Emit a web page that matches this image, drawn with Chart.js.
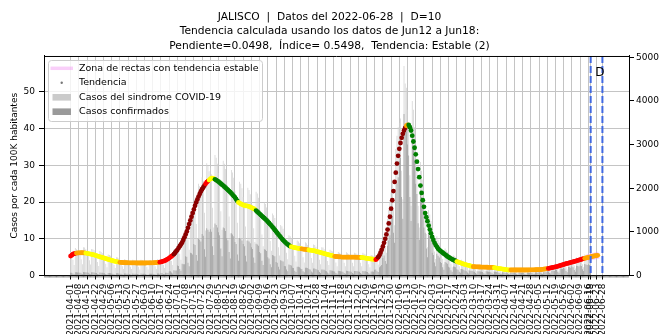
<!DOCTYPE html>
<html><head><meta charset="utf-8">
<script src="https://cdn.jsdelivr.net/npm/chart.js@4.4.1/dist/chart.umd.min.js"></script>
<style>html,body{margin:0;padding:0;background:#fff;}#wrap{width:659px;height:334px;}</style>
</head><body><div id="wrap"><canvas id="c" width="659" height="334"></canvas></div>
<script>
const titleLines = [
  'JALISCO  |  Datos del 2022-06-28  |  D=10',
  'Tendencia calculada usando los datos de Jun12 a Jun18:',
  'Pendiente=0.0498,  \u00cdndice= 0.5498,  Tendencia: Estable (2)'
];
const yLeftTitle = 'Casos por cada 100K habitantes';
const legendLabels = ['Zona de rectas con tendencia estable','Tendencia','Casos del sindrome COVID-19','Casos confirmados'];
const startDate = '2021-04-01';
const tickLabels = [
 '2021-04-01','2021-04-08','2021-04-15','2021-04-22','2021-04-29','2021-05-06','2021-05-13','2021-05-20','2021-05-27',
 '2021-06-03','2021-06-10','2021-06-17','2021-06-24','2021-07-01','2021-07-08','2021-07-15','2021-07-22','2021-07-29',
 '2021-08-05','2021-08-12','2021-08-19','2021-08-26','2021-09-02','2021-09-09','2021-09-16','2021-09-23','2021-09-30',
 '2021-10-07','2021-10-14','2021-10-21','2021-10-28','2021-11-04','2021-11-11','2021-11-18','2021-11-25','2021-12-02',
 '2021-12-09','2021-12-16','2021-12-23','2021-12-30','2022-01-06','2022-01-13','2022-01-20','2022-01-27','2022-02-03',
 '2022-02-10','2022-02-17','2022-02-24','2022-03-03','2022-03-10','2022-03-17','2022-03-24','2022-03-31','2022-04-07',
 '2022-04-14','2022-04-21','2022-04-28','2022-05-05','2022-05-12','2022-05-19','2022-05-26','2022-06-02','2022-06-09',
 '2022-06-16','2022-06-18','2022-06-23','2022-06-28'
];
const cutDates = ['2022-06-18','2022-06-28'];
const cutText = 'D';
const leftTicks = [0,10,20,30,40,50];
const rightTicks = [0,1000,2000,3000,4000,5000];

// Tendencia (casos por 100K), one point per day from 2021-04-01
const trendValues = [
 5.3,5.55,5.8,5.95,6.05,6.1,6.13,6.16,6.18,6.2,
 6.2,6.19,6.16,6.1,6.04,5.97,5.9,5.83,5.76,5.68,
 5.6,5.5,5.4,5.3,5.2,5.1,5.0,4.9,4.8,4.7,
 4.6,4.5,4.4,4.3,4.2,4.1,4.02,3.94,3.86,3.78,
 3.71,3.65,3.6,3.57,3.54,3.52,3.5,3.48,3.47,3.46,
 3.45,3.44,3.43,3.43,3.42,3.42,3.41,3.41,3.4,3.4,
 3.4,3.4,3.4,3.41,3.41,3.42,3.42,3.43,3.44,3.44,
 3.45,3.47,3.49,3.52,3.55,3.58,3.62,3.7,3.8,3.9,
 4.0,4.15,4.35,4.55,4.75,5.0,5.25,5.5,5.8,6.2,
 6.6,7.0,7.5,8.0,8.5,9.0,9.7,10.4,11.2,12.0,
 13.0,14.0,15.0,16.0,17.0,18.0,19.0,19.9,20.7,21.5,
 22.2,22.9,23.5,24.0,24.5,25.0,25.4,25.7,26.0,26.3,
 26.5,26.5,26.4,26.2,26.0,25.8,25.55,25.3,25.0,24.75,
 24.5,24.2,23.9,23.6,23.3,23.0,22.7,22.35,22.0,21.65,
 21.3,20.8,20.3,19.9,19.7,19.5,19.35,19.2,19.1,19.0,
 18.95,18.9,18.8,18.65,18.5,18.35,18.2,18.0,17.7,17.4,
 17.1,16.8,16.5,16.2,15.9,15.6,15.3,15.0,14.65,14.3,
 13.95,13.6,13.2,12.8,12.4,12.0,11.6,11.2,10.8,10.4,
 10.0,9.65,9.3,9.0,8.7,8.45,8.2,8.0,7.85,7.75,
 7.65,7.57,7.5,7.45,7.4,7.35,7.3,7.25,7.2,7.15,
 7.1,7.05,7.0,6.95,6.9,6.85,6.8,6.75,6.7,6.6,
 6.5,6.42,6.33,6.25,6.16,6.07,5.98,5.89,5.8,5.72,
 5.63,5.55,5.46,5.38,5.29,5.2,5.17,5.14,5.11,5.08,
 5.05,5.03,5.0,5.0,5.0,5.0,5.0,5.0,5.0,5.0,
 5.0,4.99,4.98,4.97,4.96,4.95,4.93,4.91,4.9,4.85,
 4.8,4.75,4.7,4.65,4.6,4.55,4.5,4.45,4.4,4.35,
 4.3,4.6,5.0,5.5,6.2,7.0,7.9,8.9,10.0,11.2,
 12.5,14.2,16.0,18.2,20.5,23.0,25.5,28.0,30.5,32.6,
 34.5,36.1,37.5,38.6,39.5,40.2,40.8,41.0,41.0,40.4,
 39.5,38.1,36.5,34.8,33.0,31.0,29.0,26.8,24.5,22.5,
 20.5,18.7,17.0,15.9,14.8,13.6,12.5,11.5,10.5,9.7,
 8.9,8.3,7.8,7.3,7.0,6.7,6.45,6.2,5.95,5.7,
 5.45,5.2,5.0,4.8,4.6,4.4,4.25,4.1,3.95,3.8,
 3.68,3.56,3.45,3.33,3.22,3.1,3.01,2.92,2.83,2.75,
 2.66,2.57,2.48,2.4,2.38,2.37,2.35,2.34,2.32,2.31,
 2.3,2.29,2.28,2.27,2.26,2.25,2.24,2.23,2.22,2.21,
 2.2,2.14,2.08,2.02,1.96,1.9,1.85,1.8,1.75,1.7,
 1.65,1.6,1.55,1.5,1.5,1.5,1.5,1.5,1.5,1.5,
 1.5,1.5,1.5,1.5,1.5,1.5,1.5,1.5,1.5,1.5,
 1.5,1.51,1.52,1.53,1.54,1.55,1.56,1.57,1.58,1.59,
 1.6,1.64,1.68,1.72,1.77,1.82,1.87,1.92,1.99,2.07,
 2.14,2.22,2.29,2.36,2.43,2.5,2.6,2.7,2.8,2.9,
 3.0,3.1,3.2,3.29,3.38,3.46,3.55,3.64,3.72,3.81,
 3.9,4.0,4.1,4.2,4.3,4.4,4.5,4.6,4.68,4.77,
 4.85,4.93,5.02,5.1,5.17,5.24,5.31,5.38,5.44,5.5
];
// Trend classification by day ranges [firstDay, lastDay, class]
const trendSegments = [
 [0,4,'sube'],[5,12,'leve'],[13,41,'estable'],[42,75,'leve'],[76,87,'sube'],[88,114,'fuerte'],
 [115,117,'sube'],[118,122,'estable'],[123,142,'baja'],[143,157,'estable'],[158,187,'baja'],
 [188,196,'estable'],[197,202,'leve'],[203,224,'estable'],[225,247,'leve'],[248,259,'estable'],
 [260,261,'sube'],[262,285,'fuerte'],[286,287,'leve'],[288,328,'baja'],[329,342,'estable'],
 [343,360,'leve'],[361,374,'estable'],[375,406,'leve'],[407,437,'sube'],[438,449,'leve']
];
const trendColors = {fuerte:'#8b0000', sube:'#ff0000', leve:'#ffa500', estable:'#ffff00', baja:'#008000'};

// Casos del sindrome COVID-19 (daily, 2021-04-01 .. 2022-06-18)
const casosSindrome = [
 540,530,360,240,630,600,570, 590,540,370,260,650,640,600, 560,510,350,250,610,600,580,
 500,470,310,220,560,540,510, 430,410,270,190,480,470,450, 380,350,240,170,420,410,390,
 330,320,210,150,370,360,350, 320,310,200,150,360,350,340, 320,300,200,140,360,350,330,
 330,300,200,140,350,350,330, 330,310,210,150,370,360,340, 370,360,240,170,420,420,400,
 500,490,330,240,590,580,560, 760,740,500,360,900,880,850, 1260,1230,820,590,1480,1450,1380,
 1810,1760,1180,840,2100,2050,1950, 2250,2160,1440,1030,2570,2510,2390, 2470,2320,1550,1100,2760,2700,2560,
 2350,2200,1470,1050,2630,2560,2440, 2160,2030,1350,970,2420,2360,2240, 1930,1810,1210,860,2150,2100,2000,
 1800,1680,1120,800,2010,1960,1860, 1720,1610,1080,770,1920,1880,1780, 1500,1410,940,670,1680,1640,1560,
 1270,1190,790,570,1420,1380,1320, 1030,970,650,460,1160,1130,1070, 830,780,520,370,920,900,860,
 710,670,450,320,800,780,740, 680,640,420,300,760,740,700, 640,600,400,290,710,700,660,
 580,550,360,260,650,640,600, 530,490,330,240,590,570,550, 480,450,300,210,540,520,500,
 470,440,290,210,530,510,490, 470,440,290,210,520,510,490, 460,430,290,210,520,500,480,
 420,400,260,190,470,460,440, 450,470,330,250,600,640,700, 800,900,650,520,1300,1500,1700,
 1900,2100,1500,1150,2900,3200,3400, 3500,3600,2400,1750,4800,4400,4300, 3800,3500,2300,1600,4000,3800,3400,
 2800,2500,1600,1100,2600,2400,2200, 1700,1500,950,650,1500,1400,1250, 950,850,550,380,900,820,750,
 620,570,380,260,620,580,540, 440,410,270,190,460,440,420, 340,320,210,150,360,340,320,
 270,250,170,120,280,270,260, 230,210,140,100,250,240,230, 220,200,130,100,240,230,220,
 200,190,130,90,220,210,200, 170,150,100,70,180,170,160, 150,130,90,60,160,150,140,
 140,130,90,60,160,160,140, 140,140,90,60,160,150,140, 150,140,90,70,160,160,150,
 160,150,100,70,170,170,160, 190,180,120,90,230,220,210, 250,240,160,110,290,280,270,
 310,290,190,140,350,340,320, 370,340,230,160,410,400,380, 420,400,260,190,480,460,440,
 470,440,290
];
// Casos confirmados (daily, 2021-04-01 .. 2022-06-18)
const casosConfirmados = [
 65,64,43,29,76,72,68, 71,65,44,31,78,77,72, 67,61,42,30,73,72,70,
 60,56,37,26,67,65,61, 52,49,32,23,58,56,54, 46,42,29,20,50,49,47,
 40,38,25,18,44,43,42, 38,37,24,18,43,42,41, 38,36,24,17,43,42,40,
 40,36,24,17,42,42,40, 40,37,25,18,44,43,41, 56,54,36,26,63,63,60,
 100,98,66,48,118,116,112, 230,220,150,110,270,260,255, 440,430,290,210,520,510,480,
 720,700,470,340,840,820,780, 950,910,600,430,1080,1050,1000, 1060,1000,670,470,1190,1160,1100,
 990,920,620,440,1100,1080,1020, 860,810,540,390,970,940,900, 770,720,480,340,860,840,800,
 720,670,450,320,800,780,740, 650,610,410,290,730,710,680, 540,510,340,240,600,590,560,
 420,390,260,190,470,460,440, 310,290,200,140,350,340,320, 220,210,140,100,250,240,230,
 180,170,110,80,200,200,190, 160,150,100,72,180,180,170, 150,140,92,67,160,160,150,
 130,120,80,57,140,140,130, 110,100,66,48,120,115,110, 96,90,60,42,108,104,100,
 94,88,58,42,106,102,98, 94,88,58,42,104,102,98, 92,86,58,42,104,100,96,
 84,80,52,38,94,92,88, 130,140,100,80,190,210,240, 400,460,330,270,680,800,920,
 1230,1370,980,750,1900,2100,2250, 2620,2700,1800,1300,3700,3300,3300, 3000,2750,1800,1250,3150,2950,2650,
 2100,1870,1200,820,1950,1800,1650, 1100,980,620,420,980,910,810, 520,470,300,210,500,450,410,
 310,285,190,130,310,290,270, 200,185,120,85,207,198,189, 143,134,88,63,151,143,134,
 108,100,68,48,112,108,104, 92,84,56,40,100,96,92, 88,80,52,40,96,92,88,
 80,76,52,36,88,84,80, 68,60,40,28,72,68,64, 60,52,36,24,64,60,56,
 56,52,36,24,64,64,56, 56,56,36,24,64,60,56, 63,59,38,29,67,67,63,
 72,68,45,32,77,77,72, 95,90,60,45,115,110,105, 138,132,88,61,160,154,149,
 170,160,105,77,193,187,176, 204,187,127,88,226,220,209, 231,220,143,105,264,253,242,
 260,242,160
];
// Zona de rectas con tendencia estable
const stableZoneDates = ['2022-06-15','2022-06-25'];
const stableZoneValues = [4.85, 5.55];

const leftMax = 59.8, rightMax = 5030;
const xMin = -22.65, xMax = 475.65;

const DAY = 86400000;
const t0 = (()=>{const [y,m,d]=startDate.split('-').map(Number);return Date.UTC(y,m-1,d);})();
function dayOf(s){const [y,m,d]=s.split('-').map(Number);return Math.round((Date.UTC(y,m-1,d)-t0)/DAY);}
function dateOf(n){return new Date(t0+n*DAY).toISOString().slice(0,10);}
const tickDays = tickLabels.map(dayOf);
const tickLabelByDay = {}; tickLabels.forEach(s=>{tickLabelByDay[dayOf(s)] = s;});

function classOf(i){for(const s of trendSegments){if(i>=s[0]&&i<=s[1])return s[2];}return 'estable';}
const trendPointColors = trendValues.map((v,i)=>trendColors[classOf(i)]);

const FONT = 'DejaVu Sans';
Chart.defaults.font.family = FONT;
Chart.defaults.color = '#000';

const LIGHT = '#d0d0d0', DARK = '#9a9a9a', PINK = 'rgba(238,130,238,0.38)';

const extras = {
  id:'extras',
  afterDatasetsDraw(chart){
    const {ctx, chartArea:a, scales:{x}} = chart;
    ctx.save();
    ctx.strokeStyle = '#4169e1'; ctx.lineWidth = 2; ctx.setLineDash([7,3]);
    const px = cutDates.map(s=>x.getPixelForValue(dayOf(s)));
    px.forEach(p=>{ctx.beginPath();ctx.moveTo(p,a.top);ctx.lineTo(p,a.bottom);ctx.stroke();});
    ctx.setLineDash([]);
    ctx.fillStyle = '#000'; ctx.font = '12px '+FONT; ctx.textBaseline='middle'; ctx.textAlign='left';
    ctx.fillText(cutText, px[0]+4.5, a.top+17);
    ctx.restore();
  },
  afterDraw(chart){
    const {ctx, chartArea:a, scales:{x}} = chart;
    ctx.save();
    ctx.strokeStyle='#000'; ctx.lineWidth=1;
    ctx.beginPath(); ctx.moveTo(a.left, a.top+0.5); ctx.lineTo(a.right, a.top+0.5); ctx.stroke();
    ctx.lineWidth=0.6; ctx.strokeStyle='#333';
    ctx.beginPath();
    for(let d=Math.ceil(xMin); d<=Math.floor(xMax); d++){
      const p = x.getPixelForValue(d);
      ctx.moveTo(p, a.bottom); ctx.lineTo(p, a.bottom+2);
    }
    ctx.stroke();
    const bx=48.5, by=60.5, bw=214, bh=61, r=3;
    ctx.beginPath();
    ctx.moveTo(bx+r,by); ctx.lineTo(bx+bw-r,by); ctx.quadraticCurveTo(bx+bw,by,bx+bw,by+r);
    ctx.lineTo(bx+bw,by+bh-r); ctx.quadraticCurveTo(bx+bw,by+bh,bx+bw-r,by+bh);
    ctx.lineTo(bx+r,by+bh); ctx.quadraticCurveTo(bx,by+bh,bx,by+bh-r);
    ctx.lineTo(bx,by+r); ctx.quadraticCurveTo(bx,by,bx+r,by); ctx.closePath();
    ctx.fillStyle='rgba(255,255,255,0.8)'; ctx.fill();
    ctx.strokeStyle='#cccccc'; ctx.lineWidth=1; ctx.stroke();
    const rows=[68.3,82.7,97.3,111.7];
    ctx.strokeStyle=PINK; ctx.lineWidth=3.5;
    ctx.beginPath(); ctx.moveTo(50.5,rows[0]); ctx.lineTo(73,rows[0]); ctx.stroke();
    ctx.fillStyle='#777'; ctx.beginPath(); ctx.arc(61.7,rows[1],1.2,0,Math.PI*2); ctx.fill();
    ctx.fillStyle='#cbcbcb'; ctx.fillRect(52.5,rows[2]-3.3,18.5,6.6);
    ctx.fillStyle=DARK; ctx.fillRect(52.5,rows[3]-3.3,18.5,6.6);
    ctx.fillStyle='#000'; ctx.font='9.5px '+FONT; ctx.textBaseline='middle'; ctx.textAlign='left';
    legendLabels.forEach((t,i)=>ctx.fillText(t,79,rows[i]));
    ctx.restore();
  }
};

new Chart(document.getElementById('c'), {
  type:'bar',
  data:{
    datasets:[
      {type:'line', label:legendLabels[1], yAxisID:'yL', order:0,
       data:trendValues.map((v,i)=>({x:i,y:v})), showLine:false,
       pointRadius:2.4, pointBorderWidth:0, pointBackgroundColor:trendPointColors, pointBorderColor:trendPointColors},
      {type:'line', label:legendLabels[0], yAxisID:'yL', order:1,
       data:stableZoneDates.map((s,i)=>({x:dayOf(s),y:stableZoneValues[i]})),
       borderColor:PINK, borderWidth:7, pointRadius:0, borderCapStyle:'butt'},
      {label:legendLabels[3], yAxisID:'yR', order:2, grouped:false,
       data:casosConfirmados.map((v,i)=>({x:i,y:v})), backgroundColor:DARK,
       barPercentage:0.6, categoryPercentage:1},
      {label:legendLabels[2], yAxisID:'yR', order:3, grouped:false,
       data:casosSindrome.map((v,i)=>({x:i,y:v})), backgroundColor:LIGHT,
       barPercentage:0.6, categoryPercentage:1}
    ]
  },
  options:{
    responsive:false, animation:false, devicePixelRatio:1, events:[],
    layout:{padding:0},
    plugins:{
      legend:{display:false}, tooltip:{enabled:false},
      title:{display:true, text:titleLines, color:'#000',
        font:{family:FONT, size:10.7, weight:'normal', lineHeight:1.36},
        padding:{top:9.7, bottom:2.64}}
    },
    scales:{
      x:{type:'linear', min:xMin, max:xMax, offset:false,
        afterBuildTicks:(s)=>{s.ticks = tickDays.map(v=>({value:v}));},
        afterFit:(s)=>{s.height = 58.5;},
        grid:{offset:false, color:'#c4c4c4', lineWidth:1, tickLength:4, tickColor:'#000'},
        border:{color:'#000', width:1},
        ticks:{autoSkip:false, minRotation:90, maxRotation:90, padding:4, color:'#000',
          font:{size:9}, callback:(v)=>tickLabelByDay[v] || dateOf(v)}
      },
      yL:{type:'linear', position:'left', min:0, max:leftMax,
        afterBuildTicks:(s)=>{s.ticks = leftTicks.map(v=>({value:v}));},
        afterFit:(s)=>{s.width = 44;},
        grid:{color:'#c4c4c4', lineWidth:1, tickLength:5, tickColor:'#000'},
        border:{color:'#000', width:1},
        ticks:{padding:4, color:'#000', font:{size:9}, callback:(v)=>String(v)},
        title:{display:true, text:yLeftTitle, color:'#000', font:{size:9}, padding:{top:9.7,bottom:0}}
      },
      yR:{type:'linear', position:'right', min:0, max:rightMax,
        afterBuildTicks:(s)=>{s.ticks = rightTicks.map(v=>({value:v}));},
        afterFit:(s)=>{s.width = 30;},
        grid:{drawOnChartArea:false, tickLength:5, tickColor:'#000'},
        border:{color:'#000', width:1},
        ticks:{padding:2, color:'#000', font:{size:9}, callback:(v)=>String(v)}
      }
    }
  },
  plugins:[extras]
});
</script></body></html>
